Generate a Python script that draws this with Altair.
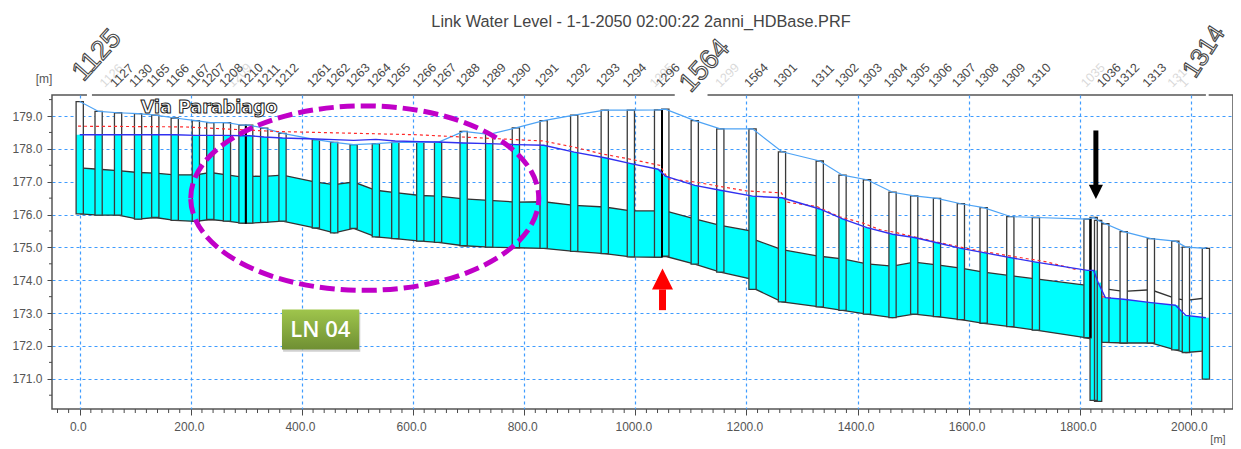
import altair as alt
import numpy as np
import pandas as pd

# Manholes / nodes along the profile
node_x = [0,34,69,105,136,171,209,235,265,293,305,332,365,425,458,493,533,568,613,645,691,737,785,835,890,945,992,1041,1054,1107,1153,1211,1264,1332,1373,1417,1463,1502,1543,1586,1627,1675,1721,1814,1825,1833,1846,1879,1928,1972,1991,2027]
ground = [179.44,179.14,179.10,179.07,179.03,178.94,178.86,178.80,178.80,178.72,178.72,178.63,178.47,178.28,178.20,178.13,178.16,178.20,178.20,178.20,178.53,178.44,178.64,178.86,179.03,179.18,179.18,179.19,179.21,178.86,178.61,178.61,177.91,177.63,177.20,177.06,176.68,176.57,176.49,176.33,176.21,175.94,175.91,175.86,175.91,175.82,175.72,175.48,175.27,175.19,175.01,174.97]
invert = [176.02,175.98,175.98,175.86,175.91,175.82,175.79,175.85,175.80,175.74,175.74,175.76,175.80,175.59,175.44,175.58,175.32,175.27,175.19,175.15,175.05,175.01,174.99,174.97,174.88,174.81,174.71,174.70,174.73,174.49,174.25,173.72,173.34,173.19,173.08,172.97,172.86,172.97,172.89,172.80,172.69,172.59,172.48,172.25,170.34,170.31,172.11,172.09,172.09,171.88,171.80,170.99]
water = [178.43,178.43,178.43,178.43,178.43,178.43,178.41,178.41,178.41,178.40,178.40,178.36,178.33,178.30,178.28,178.26,178.29,178.24,178.22,178.21,178.18,178.16,178.13,178.11,177.90,177.73,177.55,177.38,177.17,176.89,176.74,176.56,176.51,176.17,175.87,175.60,175.40,175.30,175.14,174.97,174.84,174.69,174.55,174.30,174.30,173.93,173.47,173.42,173.32,173.24,172.93,172.86]

# Pipe soffit and bed between nodes
pipe_x = [0,34,69,105,136,171,209,235,265,293,305,332,365,425,458,493,533,568,613,645,691,737,785,835,890,945,992,1041,1054,1107,1153,1205,1217,1264,1332,1373,1417,1463,1502,1543,1586,1627,1675,1721,1810,1846,1879,1928,1972,1991,2027]
pipe_top = [177.42,177.38,177.34,177.28,177.26,177.21,177.21,177.28,177.21,177.14,177.17,177.16,177.20,176.99,176.91,176.99,176.74,176.67,176.58,176.56,176.48,176.43,176.38,176.39,176.28,176.23,176.11,176.11,176.11,175.87,175.67,175.51,175.22,174.93,174.73,174.65,174.50,174.43,174.55,174.47,174.37,174.25,174.14,174.04,173.85,173.74,173.66,173.71,173.45,173.39,173.46]
pipe_bed = [176.02,175.98,175.98,175.86,175.91,175.82,175.79,175.85,175.80,175.74,175.74,175.76,175.80,175.59,175.44,175.58,175.32,175.27,175.19,175.15,175.05,175.01,174.99,174.97,174.88,174.81,174.71,174.70,174.73,174.49,174.25,174.05,173.72,173.34,173.19,173.08,172.97,172.86,172.97,172.89,172.80,172.69,172.59,172.48,172.25,172.11,172.09,172.09,171.88,171.80,171.85]
pipe_water = [178.43,178.43,178.43,178.43,178.43,178.43,178.41,178.41,178.41,178.40,178.40,178.36,178.33,178.30,178.28,178.26,178.29,178.24,178.22,178.21,178.18,178.16,178.13,178.11,177.90,177.73,177.55,177.38,177.17,176.89,176.74,176.58,176.54,176.51,176.17,175.87,175.60,175.40,175.30,175.14,174.97,174.84,174.69,174.55,174.30,173.47,173.42,173.32,173.24,172.93,172.86]

# Dashed red level
red_x = [-3,186,354,606,834,888,939,996,1044,1059,1107,1152,1200,1263,1272,1326,1368,1410,1440,1464,1536,1579,1620,1740,1795]
red_y = [178.69,178.67,178.53,178.43,178.24,178.06,177.85,177.67,177.50,177.09,176.99,176.86,176.72,176.66,176.38,176.25,175.93,175.74,175.54,175.47,175.19,175.03,174.89,174.56,174.32]
red2_x = [1840,1858]
red2_y = [173.50,173.46]

thick_x = [299,1048,1819]
thick_top = [178.72,179.21,175.88]
thick_bottom = [175.72,174.70,172.25]

label_x = [59,93,124,159,196,223,255,291,323,355,413,447,483,521,556,603,639,681,728,773,823,879,933,981,1041,1200,1252,1320,1363,1405,1451,1491,1531,1574,1615,1663,1709,1835,1868,1917]
label_t = ["1127","1130","1165","1166","1167","1207","1208","1210","1211","1212","1261","1262","1263","1264","1265","1266","1267","1288","1289","1290","1291","1292","1293","1294","1296","1564","1301","1311","1302","1303","1304","1305","1306","1307","1308","1309","1310","1036","1312","1313"]
faint_x = [40,270,1030,1148,1806,1962,1983]
faint_t = ["1126","1209","1295","1299","1035","1314","1"]
big_x = [-4,1089]
big_y = [180.19,179.85]
big_t = ["1125","1564"]
last_x = [1996]
last_y = [180.25]
last_t = ["1314"]

x_major = [0,200,400,600,800,1000,1200,1400,1600,1800,2000]
y_major = [171,172,173,174,175,176,177,178,179]
x_minor = [v for v in range(-40, 2070, 20) if v % 200 != 0]
y_minor = [170.5,171.5,172.5,173.5,174.5,175.5,176.5,177.5,178.5,179.5]

X_DOM = [-49.9, 2075.8]
Y_DOM = [170.08, 179.64]
xs = alt.Scale(domain=X_DOM, nice=False, zero=False)
ys = alt.Scale(domain=Y_DOM, nice=False, zero=False)
GREY = "#4a4a4a"
BLUEG = "#3f9cff"
FONT = "Liberation Sans"

half = 6.5
nodes = pd.DataFrame({"x": node_x, "x1": np.array(node_x) - half, "x2": np.array(node_x) + half,
                      "ground": ground, "invert": invert, "water": water})
nodes["wtop"] = np.minimum(nodes.water, nodes.ground)
pipes = pd.DataFrame({"x": pipe_x, "top": pipe_top, "bed": pipe_bed, "water": pipe_water})
pipes["wtop"] = np.minimum(pipes.top, pipes.water)

x_axis = alt.Axis(values=x_major, format=".1f", grid=True, gridColor=BLUEG, gridDash=[3, 3], gridWidth=1.2,
                  domain=False, tickColor=GREY, tickSize=6, labelFontSize=12, labelFont=FONT, labelColor="#555",
                  labelPadding=6, labelOffset=-2, labelOverlap=False)
y_axis = alt.Axis(values=y_major, format=".1f", grid=True, gridColor=BLUEG, gridDash=[3, 3], gridWidth=1.2,
                  domain=False, tickColor=GREY, tickSize=5, labelFontSize=12, labelFont=FONT, labelColor="#555",
                  labelPadding=5, labelOverlap=False)

X = lambda f: alt.X(f, type="quantitative", scale=xs, title=None, axis=x_axis)
Y = lambda f: alt.Y(f, type="quantitative", scale=ys, title=None, axis=y_axis)

base_axes = alt.Chart(pd.DataFrame({"x": [0], "y": [175]})).mark_point(opacity=0).encode(x=X("x"), y=Y("y"))

minor_x = alt.Chart(pd.DataFrame({"x": x_minor})).mark_rule(color=GREY, strokeWidth=1).encode(
    x=X("x"), y=alt.value(314), y2=alt.value(318))
minor_y = alt.Chart(pd.DataFrame({"y": y_minor})).mark_rule(color=GREY, strokeWidth=1).encode(
    y=Y("y"), x=alt.value(0), x2=alt.value(-3))

pipe_area = alt.Chart(pipes).mark_area(color="#00ffff", opacity=1).encode(x=X("x"), y=Y("bed"), y2="wtop:Q")
pipe_top_l = alt.Chart(pipes).mark_line(color="#333", strokeWidth=1.3).encode(x=X("x"), y=Y("top"))
pipe_bed_l = alt.Chart(pipes).mark_line(color="#333", strokeWidth=1.3).encode(x=X("x"), y=Y("bed"))

node_white = alt.Chart(nodes).mark_rect(color="white").encode(x=X("x1"), x2="x2:Q", y=Y("invert"), y2="ground:Q")
node_cyan = alt.Chart(nodes).mark_rect(color="#00ffff").encode(x=X("x1"), x2="x2:Q", y=Y("invert"), y2="wtop:Q")
node_line = alt.Chart(nodes).mark_rect(fillOpacity=0, stroke="#3a3a3a", strokeWidth=1.3).encode(
    x=X("x1"), x2="x2:Q", y=Y("invert"), y2="ground:Q")
thick = alt.Chart(pd.DataFrame({"x": thick_x, "a": thick_top, "b": thick_bottom})).mark_rule(
    color="black", strokeWidth=2).encode(x=X("x"), y=Y("a"), y2="b:Q")

ground_l = alt.Chart(nodes).mark_line(color="#4da3f5", strokeWidth=1.2).encode(x=X("x"), y=Y("ground"))
water_l = alt.Chart(nodes).mark_line(color="#3030f0", strokeWidth=1.4).encode(x=X("x"), y=Y("water"))
red_l = alt.Chart(pd.DataFrame({"x": red_x, "y": red_y})).mark_line(
    color="#ff2a2a", strokeWidth=1.2, strokeDash=[3, 3]).encode(x=X("x"), y=Y("y"))
red_2 = alt.Chart(pd.DataFrame({"x": red2_x, "y": red2_y})).mark_line(
    color="#ff2a2a", strokeWidth=1.2, strokeDash=[3, 3]).encode(x=X("x"), y=Y("y"))

gaps = alt.Chart(pd.DataFrame({"a": [13, 1071, 2027], "b": [22, 1130, 2032]})).mark_rule(
    color="white", strokeWidth=3).encode(x=X("a"), x2="b:Q", y=alt.value(0))

small = alt.Chart(pd.DataFrame({"x": label_x, "t": label_t, "y": [179.94] * len(label_x)})).mark_text(
    angle=315, align="left", baseline="middle", fontSize=12.5, font=FONT, color="#484848").encode(
    x=X("x"), y=Y("y"), text="t:N")
faint = alt.Chart(pd.DataFrame({"x": faint_x, "t": faint_t, "y": [179.94] * len(faint_x)})).mark_text(
    angle=315, align="left", baseline="middle", fontSize=12.5, font=FONT, color="#444", opacity=0.2).encode(
    x=X("x"), y=Y("y"), text="t:N")
big = alt.Chart(pd.DataFrame({"x": big_x, "y": big_y, "t": big_t})).mark_text(
    angle=312, align="left", baseline="middle", fontSize=27, font=FONT, color="white",
    stroke="#444", strokeWidth=1.1).encode(x=X("x"), y=Y("y"), text="t:N")
last = alt.Chart(pd.DataFrame({"x": last_x, "y": last_y, "t": last_t})).mark_text(
    angle=303, align="left", baseline="middle", fontSize=25, font=FONT, color="white",
    stroke="#444", strokeWidth=1.1).encode(x=X("x"), y=Y("y"), text="t:N")

via = alt.Chart(pd.DataFrame({"x": [233], "y": [179.23], "t": ["Via Parabiago"]})).mark_text(
    fontSize=17.5, font="DejaVu Sans", fontWeight="bold", color="white", stroke="#222", strokeWidth=1,
    align="center", baseline="middle").encode(x=X("x"), y=Y("y"), text="t:N")

title = alt.Chart(pd.DataFrame({"t": ["Link Water Level - 1-1-2050 02:00:22 2anni_HDBase.PRF"]})).mark_text(
    fontSize=16.3, font=FONT, color="#444", align="center", baseline="middle").encode(
    x=alt.value(589), y=alt.value(-73), text="t:N")
m1 = alt.Chart(pd.DataFrame({"t": ["[m]"]})).mark_text(fontSize=12, font=FONT, color="#555",
    align="center", baseline="middle").encode(x=alt.value(-8), y=alt.value(-16), text="t:N")
m2 = alt.Chart(pd.DataFrame({"t": ["[m]"]})).mark_text(fontSize=11, font=FONT, color="#555",
    align="center", baseline="middle").encode(x=alt.value(1166), y=alt.value(345), text="t:N")

# Dashed ellipse LN 04 highlight
ell_path = "M-1,0 A1,0.53 0 1,1 1,0 A1,0.53 0 1,1 -1,0 Z"
ellipse = alt.Chart(pd.DataFrame({"x": [513], "y": [176.5]})).mark_point(
    shape=ell_path, size=348 ** 2, filled=False, stroke="#c000c8", strokeWidth=5, strokeDash=[15, 6], opacity=1
).encode(x=X("x"), y=Y("y"))

# Arrows
tri_down = "M-1,-1 L1,-1 L0,1 Z"
tri_up = "M-1,1 L1,1 L0,-1 Z"
blk_shaft = alt.Chart(pd.DataFrame({"x": [1829], "a": [178.56], "b": [176.89]})).mark_rule(
    color="black", strokeWidth=5).encode(x=X("x"), y=Y("a"), y2="b:Q")
blk_head = alt.Chart(pd.DataFrame({"x": [1829], "y": [176.69]})).mark_point(
    shape=tri_down, size=200, filled=True, color="black", opacity=1).encode(x=X("x"), y=Y("y"))
red_shaft = alt.Chart(pd.DataFrame({"x": [1049], "a": [173.72], "b": [173.09]})).mark_rule(
    color="#ff0000", strokeWidth=7).encode(x=X("x"), y=Y("a"), y2="b:Q")
red_head = alt.Chart(pd.DataFrame({"x": [1049], "y": [174.04]})).mark_point(
    shape=tri_up, size=441, filled=True, color="#ff0000", opacity=1).encode(x=X("x"), y=Y("y"))

# Badge
grad = alt.Gradient(gradient="linear", x1=0, x2=0, y1=0, y2=1, stops=[
    alt.GradientStop(color="#9fc54c", offset=0), alt.GradientStop(color="#6f8f33", offset=1)])
b_sh = alt.Chart(pd.DataFrame({"a": [366], "b": [505], "c": [173.05], "d": [171.82]})).mark_rect(
    color="#bdbdbd", opacity=0.7).encode(x=X("a"), x2="b:Q", y=Y("c"), y2="d:Q")
b_rect = alt.Chart(pd.DataFrame({"a": [364], "b": [503], "c": [173.11], "d": [171.89]})).mark_rect(
    color=grad).encode(x=X("a"), x2="b:Q", y=Y("c"), y2="d:Q")
b_text = alt.Chart(pd.DataFrame({"x": [433], "y": [172.48], "t": ["LN 04"]})).mark_text(
    fontSize=22, font="Open Sans", fontWeight=600, color="white", align="center", baseline="middle").encode(
    x=X("x"), y=Y("y"), text="t:N")

chart = alt.layer(
    base_axes, minor_x, minor_y,
    pipe_area, pipe_top_l, pipe_bed_l,
    node_white, node_cyan, node_line, thick,
    ground_l, red_l, red_2, water_l,
    gaps, small, faint, big, last, via, title, m1, m2,
    ellipse, blk_shaft, blk_head, red_shaft, red_head,
    b_sh, b_rect, b_text,
).properties(
    width=1181, height=314, autosize="none",
    padding={"left": 44, "top": 87, "right": 0, "bottom": 38},
).configure_view(stroke="#555", strokeWidth=1.5)

chart.save("out.html", embed_options={"renderer": "svg", "actions": False})
